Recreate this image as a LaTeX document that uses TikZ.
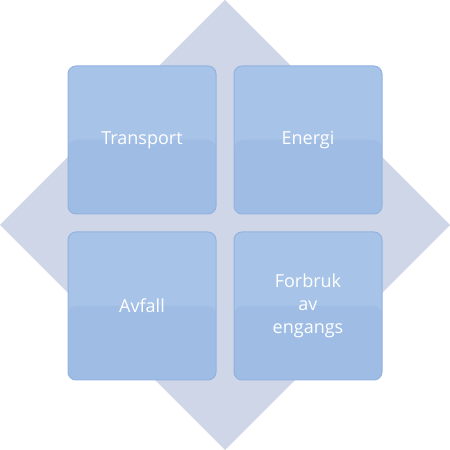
\documentclass[tikz,border=0pt]{standalone}
\usepackage{fontspec}
\setmainfont{Open Sans}
\usepackage{tikz}
\usetikzlibrary{positioning}
\definecolor{diamondcol}{HTML}{CFD6E8}
\definecolor{boxtop}{HTML}{A7C3E7}
\definecolor{boxbottom}{HTML}{9EBCE4}
\definecolor{boxedge}{HTML}{92B3E0}
\tikzstyle{area} = [draw=boxedge, line width=1pt, fill=boxtop, rounded corners=8pt, minimum width=148pt, minimum height=148pt, outer sep=0pt, inner sep=0pt, text=white, align=center, font=\fontsize{18}{23}\selectfont, path picture={\fill[boxbottom] (path picture bounding box.west) rectangle (path picture bounding box.south east);}]
\tikzstyle{backdrop} = [fill=diamondcol]

\begin{document}
\begin{tikzpicture}[node distance=18pt]
    \useasboundingbox (0,0) rectangle (450pt,450pt);
    \fill [backdrop] (0pt,225pt) -- (225pt,450pt) -- (450pt,225pt) -- (225pt,0pt) -- cycle;

    \node [area] (transport) at (142pt,310pt) {Transport};
    \node [area, right=of transport] (energi) {Energi};
    \node [area, below=of transport] (avfall) {Avfall};
    \node [area, right=of avfall] (forbruk) {Forbruk\\av\\engangs};
\end{tikzpicture}
\end{document}
